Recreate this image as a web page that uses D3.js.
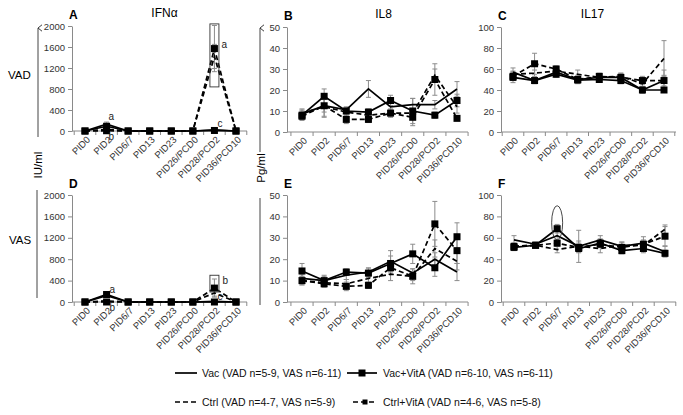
<!DOCTYPE html>
<html><head><meta charset="utf-8">
<script src="https://cdn.jsdelivr.net/npm/d3@7/dist/d3.min.js"></script>
<style>body{margin:0;background:#fff} svg{font-family:"Liberation Sans",Arial,sans-serif;display:block}</style>
</head><body><svg id="c" width="683" height="415"></svg>
<script>
const categories = ["PID0","PID2","PID6/7","PID13","PID23","PID26/PCD0","PID28/PCD2","PID36/PCD10"];
const seriesNames = ["Vac","Vac+VitA","Ctrl","Ctrl+VitA"];
const legendLabels = ["Vac (VAD n=5-9, VAS n=6-11)","Vac+VitA (VAD n=6-10, VAS n=6-11)","Ctrl (VAD n=4-7, VAS n=5-9)","Ctrl+VitA (VAD n=4-6, VAS n=5-8)"];

// IFNα (IU/ml) – VAD
const A_vac      = [0,130,0,0,0,0,20,0];
const A_vacVitA  = [0,90,0,0,0,0,10,0];
const A_ctrl     = [0,30,0,0,0,0,1420,0];
const A_ctrlVitA = [0,5,0,0,0,0,1570,0];
const A_err_vac      = [0,40,0,0,0,0,10,0];
const A_err_vacVitA  = [0,30,0,0,0,0,5,0];
const A_err_ctrl     = [0,20,0,0,0,0,230,0];
const A_err_ctrlVitA = [0,5,0,0,0,0,440,0];
// IL8 (Pg/ml) – VAD
const B_vac      = [8.5,12.5,10.5,20.5,12,13,13,20.5];
const B_vacVitA  = [8,17,10,9.5,15,10,8,15];
const B_ctrl     = [9,12,9.5,8,9,9,27,12];
const B_ctrlVitA = [7.5,12.5,6,6,9,7,25,6.5];
const B_err_vac      = [2,3,1.5,4,2,3,2,3.5];
const B_err_vacVitA  = [2,3.5,1.5,1.5,2.5,6,1.5,3];
const B_err_ctrl     = [2,5,2,1.5,2,2,3,3];
const B_err_ctrlVitA = [2,5,2,1.5,1.5,4,7.5,1];
// IL17 (Pg/ml) – VAD
const C_vac      = [57,49,57,50,52,52,40,49];
const C_vacVitA  = [52,49,55,49.5,50,49,40,40];
const C_ctrl     = [55,56,58,55,52,53,46,70];
const C_ctrlVitA = [53,65,60,50,53,52,49,49];
const C_err_vac      = [4,3,3,4,3,3,3,5];
const C_err_vacVitA  = [5,2,3,3,2,3,3,2];
const C_err_ctrl     = [3,3,3,4,2,3,3,17];
const C_err_ctrlVitA = [4,10,3,3,3,4,4,10];
// IFNα – VAS
const D_vac      = [0,120,0,0,0,0,10,0];
const D_vacVitA  = [0,140,0,0,0,0,0,0];
const D_ctrl     = [0,20,0,0,0,0,170,0];
const D_ctrlVitA = [0,0,0,0,0,0,260,0];
const D_err_vac      = [0,20,0,0,0,0,5,0];
const D_err_vacVitA  = [0,30,0,0,0,0,0,0];
const D_err_ctrl     = [0,10,0,0,0,0,60,0];
const D_err_ctrlVitA = [0,0,0,0,0,0,170,0];
// IL8 – VAS
const E_vac      = [11,10,12.5,14,19,13.5,20,14];
const E_vacVitA  = [14.5,10,14,13.5,18,22.5,16,30.5];
const E_ctrl     = [10,9,8.5,11,13,12,25,19];
const E_ctrlVitA = [10,8.5,7.3,7.8,16,12,36.5,24];
const E_err_vac      = [2,2,2,2,5,2,3,4];
const E_err_vacVitA  = [3.5,2.5,1.5,2,3.5,4.5,4,6.5];
const E_err_ctrl     = [2,2,2,2,3,2,4,4];
const E_err_ctrlVitA = [2,1.5,2,1.5,3,3.5,10.5,6];
// IL17 – VAS
const F_vac      = [58,54,62,52,58,52,55,47];
const F_vacVitA  = [51,53,68.5,50,55,48,50,45.5];
const F_ctrl     = [52,53,49,52,50,53,53,68];
const F_ctrlVitA = [52,53,55,51,54,51,54,61.5];
const F_err_vac      = [4,2,5,15,4,4,6,5];
const F_err_vacVitA  = [3,2,4,4,4,3,4,3];
const F_err_ctrl     = [3,2,3,5,4,3,4,4];
const F_err_ctrlVitA = [3,2,3,4,3,3,4,9];

const ticksIFN = [0,400,800,1200,1600,2000];
const ticksIL8 = [0,10,20,30,40,50];
const ticksIL17 = [0,20,40,60,80,100];

const styles = [{dash:null,marker:false},{dash:null,marker:true},{dash:"5,3",marker:false},{dash:"5,3",marker:true}];

const panels = [
 {label:"A", title:"IFNα", x0:72, xf:85, xl:236, xe:247, yt:26, yb:131, max:2000, ticks:ticksIFN,
  vals:[A_vac,A_vacVitA,A_ctrl,A_ctrlVitA], errs:[A_err_vac,A_err_vacVitA,A_err_ctrl,A_err_ctrlVitA],
  notes:[["PID2",130,2,-4,"a"],["PID2",0,2,9,"b"],["PID28/PCD2",1570,7,-1,"a"],["PID28/PCD2",20,3,-3,"c"]],
  box:["PID28/PCD2",2040,840]},
 {label:"B", title:"IL8", x0:287, xf:302, xl:457, xe:468, yt:27, yb:132, max:50, ticks:ticksIL8,
  vals:[B_vac,B_vacVitA,B_ctrl,B_ctrlVitA], errs:[B_err_vac,B_err_vacVitA,B_err_ctrl,B_err_ctrlVitA]},
 {label:"C", title:"IL17", x0:501, xf:513, xl:664, xe:676, yt:27, yb:132, max:100, ticks:ticksIL17,
  vals:[C_vac,C_vacVitA,C_ctrl,C_ctrlVitA], errs:[C_err_vac,C_err_vacVitA,C_err_ctrl,C_err_ctrlVitA]},
 {label:"D", x0:72, xf:85, xl:236, xe:247, yt:195, yb:302, max:2000, ticks:ticksIFN,
  vals:[D_vac,D_vacVitA,D_ctrl,D_ctrlVitA], errs:[D_err_vac,D_err_vacVitA,D_err_ctrl,D_err_ctrlVitA],
  notes:[["PID2",140,3,-2,"a"],["PID2",0,3,9,"b"],["PID28/PCD2",260,8,-4,"b"],["PID28/PCD2",10,3,-1,"c"]],
  box:["PID28/PCD2",500,187]},
 {label:"E", x0:287, xf:302, xl:457, xe:468, yt:195, yb:302, max:50, ticks:ticksIL8,
  vals:[E_vac,E_vacVitA,E_ctrl,E_ctrlVitA], errs:[E_err_vac,E_err_vacVitA,E_err_ctrl,E_err_ctrlVitA]},
 {label:"F", x0:501, xf:514, xl:665, xe:676, yt:195, yb:302, max:100, ticks:ticksIL17,
  vals:[F_vac,F_vacVitA,F_ctrl,F_ctrlVitA], errs:[F_err_vac,F_err_vacVitA,F_err_ctrl,F_err_ctrlVitA],
  ellipse:["PID6/7",74,16]}
];

const svg = d3.select("#c");
const axisCol = "#8a8a8a", errCol = "#8c8c8c";

panels.forEach(p=>{
  const g = svg.append("g");
  const y = d3.scaleLinear().domain([0,p.max]).range([p.yb,p.yt]);
  const x = d3.scalePoint().domain(categories).range([p.xf,p.xl]);
  const step = x.step();
  const ya = g.append("g").attr("transform",`translate(${p.x0},0)`)
    .call(d3.axisLeft(y).tickValues(p.ticks).tickFormat(d3.format("d")).tickSize(4).tickPadding(3).tickSizeOuter(0));
  ya.select(".domain").attr("stroke",axisCol);
  ya.selectAll(".tick line").attr("stroke",axisCol);
  ya.selectAll("text").attr("font-size",9.5).attr("fill","#333");
  g.append("line").attr("x1",p.x0).attr("x2",p.xe).attr("y1",p.yb).attr("y2",p.yb).attr("stroke",axisCol);
  const bounds = categories.map(c=>x(c)-step/2).concat([x(categories[categories.length-1])+step/2]);
  g.selectAll(".bt").data(bounds).enter().append("line")
    .attr("x1",d=>d).attr("x2",d=>d).attr("y1",p.yb).attr("y2",p.yb+4).attr("stroke",axisCol);
  const xa = g.append("g").attr("transform",`translate(0,${p.yb})`)
    .call(d3.axisBottom(x).tickSize(0).tickPadding(0));
  xa.select(".domain").remove();
  xa.selectAll("text").attr("x",0).attr("y",0).attr("dy","0.35em")
    .attr("text-anchor","end").attr("transform","translate(3,7) rotate(-45)")
    .attr("font-size",9.5).attr("fill","#333");
  g.append("text").attr("x",p.x0-3).attr("y",p.yt-7).attr("font-size",12).attr("font-weight","bold").text(p.label);
  if(p.title) g.append("text").attr("x",(p.xf+p.xl)/2+4).attr("y",p.yt-9).attr("text-anchor","middle").attr("font-size",12).text(p.title);
  p.vals.forEach((vals,k)=>{
    const errs = p.errs[k];
    vals.forEach((v,i)=>{
      const e = errs[i]; if(!e) return;
      const cx = x(categories[i]);
      g.append("line").attr("x1",cx).attr("x2",cx).attr("y1",y(v-e)).attr("y2",y(v+e)).attr("stroke",errCol).attr("stroke-width",1);
      [v-e,v+e].forEach(t=>g.append("line").attr("x1",cx-2.5).attr("x2",cx+2.5).attr("y1",y(t)).attr("y2",y(t)).attr("stroke",errCol).attr("stroke-width",1));
    });
  });
  const line = d3.line().x((d,i)=>x(categories[i])).y(d=>y(d));
  p.vals.forEach((vals,k)=>{
    g.append("path").datum(vals).attr("d",line).attr("fill","none").attr("stroke","#000")
      .attr("stroke-width",1.7).attr("stroke-dasharray",styles[k].dash);
  });
  p.vals.forEach((vals,k)=>{
    if(!styles[k].marker) return;
    g.selectAll(null).data(vals).enter().append("rect")
      .attr("x",(d,i)=>x(categories[i])-3.5).attr("y",d=>y(d)-3.5).attr("width",7).attr("height",7).attr("fill","#000");
  });
  (p.notes||[]).forEach(n=>{
    g.append("text").attr("x",x(n[0])+n[2]).attr("y",y(n[1])+n[3]).attr("font-size",10).attr("fill","#222").text(n[4]);
  });
  if(p.box){
    g.append("rect").attr("x",x(p.box[0])-4.5).attr("width",9).attr("y",y(p.box[1])).attr("height",y(p.box[2])-y(p.box[1]))
      .attr("fill","none").attr("stroke","#333").attr("stroke-width",0.9);
  }
  if(p.ellipse){
    g.append("ellipse").attr("cx",x(p.ellipse[0])).attr("cy",y(p.ellipse[1])).attr("rx",5.5).attr("ry",y(0)-y(p.ellipse[2]))
      .attr("fill","none").attr("stroke","#333").attr("stroke-width",0.9);
  }
});

svg.append("defs").append("marker").attr("id","ah").attr("viewBox","0 0 10 10").attr("refX",5).attr("refY",1)
  .attr("markerWidth",8).attr("markerHeight",8).attr("orient","auto-start-reverse")
  .append("path").attr("d","M1,6 L5,1 L9,6").attr("fill","none").attr("stroke","#333").attr("stroke-width",1.2);
function arrowLine(xp,y1,y2,head){
  const l = svg.append("line").attr("x1",xp).attr("x2",xp).attr("y1",y1).attr("y2",y2).attr("stroke","#444").attr("stroke-width",1);
  if(head) l.attr("marker-end","url(#ah)");
}
arrowLine(38,137,28,true); arrowLine(37,190,298,false);
arrowLine(260,152,28,true); arrowLine(260,198,305,false);
svg.append("text").attr("x",8).attr("y",79).attr("font-size",11.5).text("VAD");
svg.append("text").attr("x",9).attr("y",244).attr("font-size",11.5).text("VAS");
svg.append("text").attr("transform","translate(42,165) rotate(-90)").attr("text-anchor","middle").attr("font-size",11.5).text("IU/ml");
svg.append("text").attr("transform","translate(265,168) rotate(-90)").attr("text-anchor","middle").attr("font-size",11.5).text("Pg/ml");

const leg = svg.append("g");
const legPos = [[175,373],[347,373],[175,402],[353,402]];
seriesNames.forEach((s,k)=>{
  const [lx,ly] = legPos[k];
  const x2 = k===1?377:(k===3?377:197);
  leg.append("line").attr("x1",lx).attr("x2",x2).attr("y1",ly).attr("y2",ly).attr("stroke","#000").attr("stroke-width",1.7).attr("stroke-dasharray",styles[k].dash);
  if(styles[k].marker){
    const sz = k===1?7:5;
    leg.append("rect").attr("x",(lx+x2)/2-sz/2).attr("y",ly-sz/2).attr("width",sz).attr("height",sz).attr("fill","#000");
  }
  leg.append("text").attr("x",k%2===0?202:383).attr("y",ly+4).attr("font-size",10.5).attr("fill","#111").text(legendLabels[k]);
});
</script></body></html>
